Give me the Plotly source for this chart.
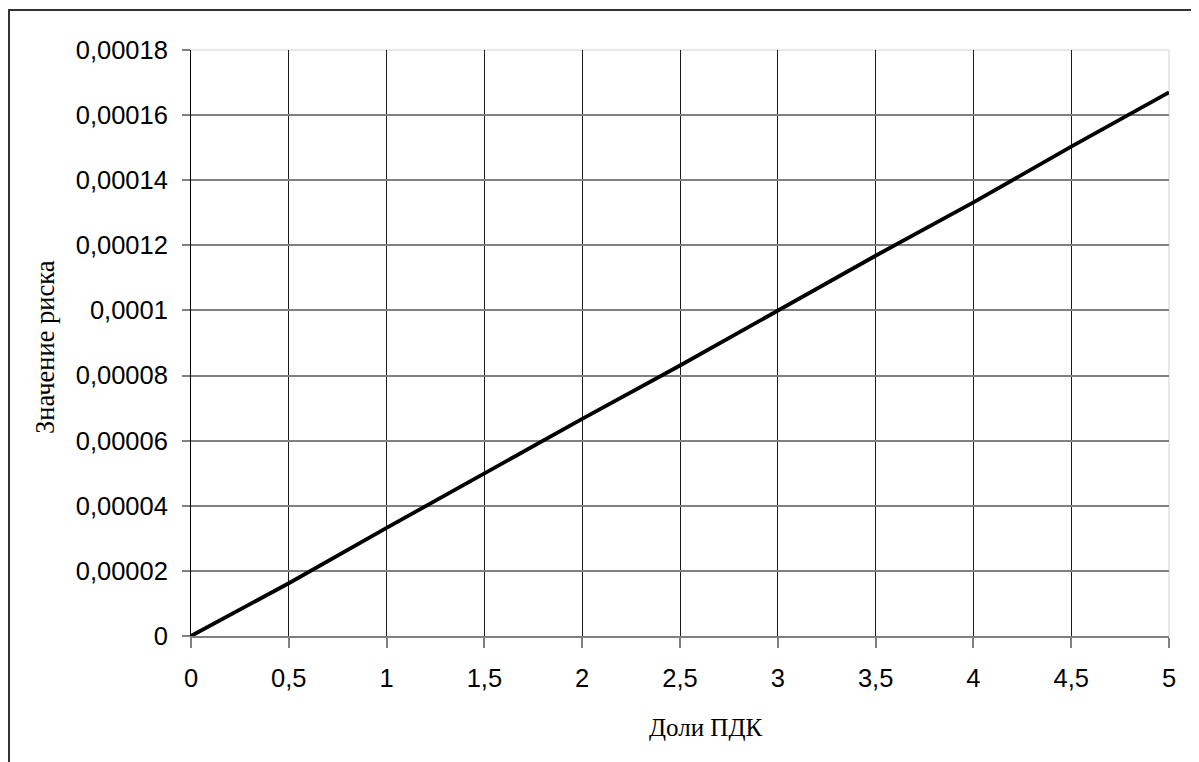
import plotly.graph_objects as go

# Data
dose_share = [0, 0.5, 1, 1.5, 2, 2.5, 3, 3.5, 4, 4.5, 5]
risk_value = [0, 0.0000162, 0.0000332, 0.0000500, 0.0000667, 0.0000831,
              0.0001000, 0.0001168, 0.0001332, 0.0001503, 0.0001670]

x_tickvals = [0, 0.5, 1, 1.5, 2, 2.5, 3, 3.5, 4, 4.5, 5]
x_ticktext = ["0", "0,5", "1", "1,5", "2", "2,5", "3", "3,5", "4", "4,5", "5"]
y_tickvals = [0, 0.00002, 0.00004, 0.00006, 0.00008, 0.0001,
              0.00012, 0.00014, 0.00016, 0.00018]
y_ticktext = ["0", "0,00002", "0,00004", "0,00006", "0,00008", "0,0001",
              "0,00012", "0,00014", "0,00016", "0,00018"]

x_title = "Доли ПДК"
y_title = "Значение риска"

fig = go.Figure()
fig.add_trace(go.Scatter(
    x=dose_share, y=risk_value, mode="lines",
    line=dict(color="black", width=3.8), showlegend=False,
    cliponaxis=False,
))

tick_font = dict(family="Liberation Sans, Arial, sans-serif", size=25.5, color="black")
serif = "Liberation Serif, Times New Roman, serif"

fig.update_layout(
    width=1191, height=754,
    margin=dict(l=183, r=30, t=42, b=126),
    paper_bgcolor="white", plot_bgcolor="white",
    xaxis=dict(
        range=[0, 5], tickvals=x_tickvals, ticktext=x_ticktext,
        showgrid=True, gridcolor="#1a1a1a", gridwidth=1,
        zeroline=False, showline=True, linecolor="#808080", linewidth=2,
        ticks="outside", ticklen=10, tickcolor="#808080", tickwidth=1.5,
        tickfont=tick_font, ticklabelstandoff=8,
    ),
    yaxis=dict(
        range=[0, 0.00018], tickvals=y_tickvals, ticktext=y_ticktext,
        showgrid=True, gridcolor="#808080", gridwidth=1.5,
        zeroline=False, showline=True, linecolor="black", linewidth=1,
        ticks="outside", ticklen=8, tickcolor="#808080", tickwidth=1.5,
        tickfont=tick_font, ticklabelstandoff=9,
    ),
    annotations=[
        dict(text=x_title, xref="paper", yref="paper", x=0.5256, y=-0.1553,
             xanchor="center", yanchor="middle", showarrow=False,
             font=dict(family=serif, size=25, color="black")),
        dict(text=y_title, xref="paper", yref="paper", x=-0.1493, y=0.4932,
             xanchor="center", yanchor="middle", showarrow=False, textangle=-90,
             font=dict(family=serif, size=26.5, color="black")),
    ],
    shapes=[
        # outer frame
        dict(type="rect", xref="paper", yref="paper",
             x0=-0.1861, x1=1.06, y0=-0.26, y1=1.0683,
             line=dict(color="#333333", width=2), fillcolor="rgba(0,0,0,0)",
             layer="below"),
        # light top and right edges of plot area
        dict(type="line", xref="paper", yref="paper", x0=0, x1=1, y0=1, y1=1,
             line=dict(color="#e8e8e8", width=2), layer="between"),
        dict(type="line", xref="paper", yref="paper", x0=1, x1=1, y0=0, y1=1,
             line=dict(color="#e8e8e8", width=2), layer="between"),
    ],
)

fig.write_html("out.html")
